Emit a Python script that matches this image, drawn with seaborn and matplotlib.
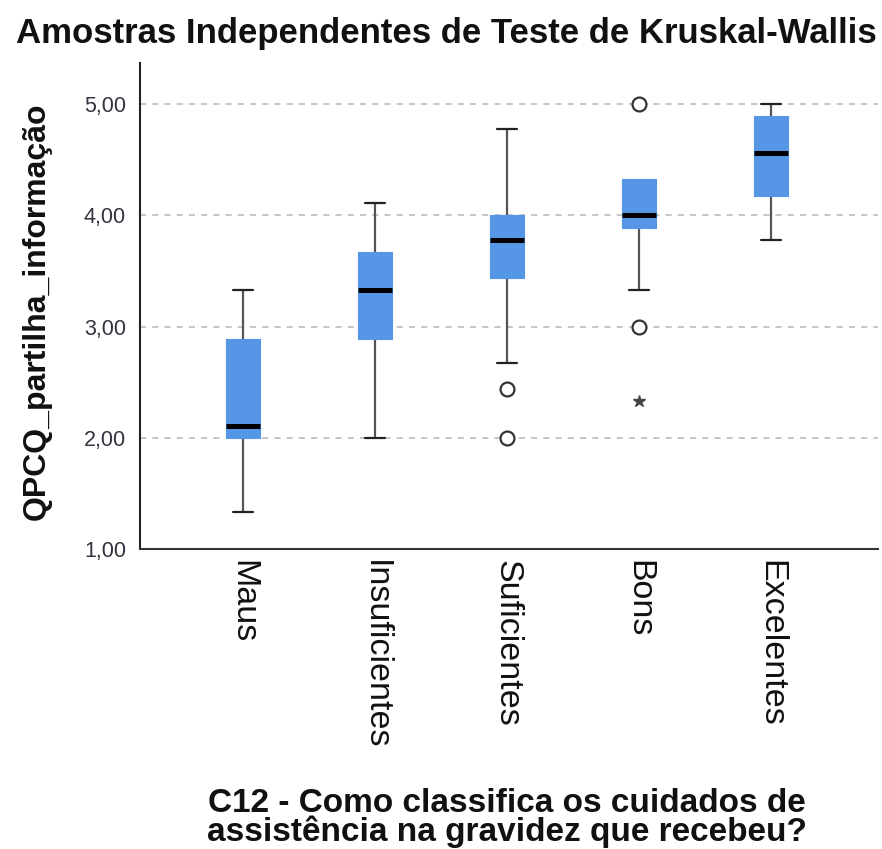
import matplotlib
matplotlib.use("Agg")
import matplotlib.pyplot as plt
import seaborn as sns

# --- dados (resumo de cada caixa) ---
categorias = ["Maus", "Insuficientes", "Suficientes", "Bons", "Excelentes"]
bigode_inf = [1.33, 2.00, 2.67, 3.33, 3.78]
q1 = [2.00, 2.89, 3.44, 3.89, 4.17]
mediana = [2.11, 3.33, 3.78, 4.00, 4.56]
q3 = [2.89, 3.67, 4.00, 4.33, 4.89]
bigode_sup = [3.33, 4.11, 4.78, 4.33, 5.00]
# outliers (círculos) e extremos (estrela)
outliers = [[], [], [2.44, 2.00], [5.00, 3.00], []]
extremos = [[], [], [], [2.33], []]
y_ticks = [1, 2, 3, 4, 5]
y_labels = ["1,00", "2,00", "3,00", "4,00", "5,00"]

sns.set_style("white")
plt.rcParams["font.family"] = ["Liberation Sans", "DejaVu Sans"]

fig = plt.figure(figsize=(8.82, 8.49), dpi=100)
ax = fig.add_axes([140 / 882, 1 - 549 / 849, 738 / 882, 486 / 849])

stats = []
for i, nome in enumerate(categorias):
    stats.append({
        "label": nome,
        "whislo": bigode_inf[i],
        "q1": q1[i],
        "med": mediana[i],
        "q3": q3[i],
        "whishi": bigode_sup[i],
        "fliers": outliers[i],
    })

azul = "#5596E6"
res = ax.bxp(stats, positions=range(len(categorias)), widths=0.26, capwidths=0.145,
             patch_artist=True, showfliers=True,
             boxprops=dict(facecolor=azul, edgecolor=azul, linewidth=0.8, zorder=3),
             medianprops=dict(color="black", linewidth=3.6, zorder=4),
             whiskerprops=dict(color="#555555", linewidth=1.6, zorder=2),
             capprops=dict(color="#222222", linewidth=1.6, zorder=2),
             flierprops=dict(marker="o", markersize=10, markerfacecolor="white",
                             markeredgecolor="#333333", markeredgewidth=1.6, zorder=4))

# sem bigode quando o limite coincide com o quartil
for i in range(len(categorias)):
    if bigode_sup[i] <= q3[i]:
        res["caps"][2 * i + 1].set_visible(False)
    if bigode_inf[i] >= q1[i]:
        res["caps"][2 * i].set_visible(False)

# valores extremos marcados com estrela
for i, vals in enumerate(extremos):
    for v in vals:
        ax.plot(i, v, marker="*", markersize=9, color="#444444", zorder=4)

ax.set_xlim(-0.78, 4.81)
ax.set_ylim(1.0, 5.37)
ax.set_yticks(y_ticks)
ax.set_yticklabels(y_labels, fontsize=15.5, color="#333340")
ax.set_xticks(range(len(categorias)))
ax.set_xticklabels(categorias, rotation=-90, fontsize=24.5, color="#111111", va="top")
ax.tick_params(axis="both", length=0)
ax.tick_params(axis="x", pad=8)
ax.tick_params(axis="y", pad=10)

# linhas de grelha tracejadas
for y in y_ticks[1:]:
    ax.axhline(y, color="#b5b5b5", linewidth=1.1, linestyle=(0, (4, 4)), zorder=0)

sns.despine(ax=ax)
ax.spines["left"].set_color("#222222")
ax.spines["bottom"].set_color("#333333")
ax.spines["left"].set_linewidth(1.5)
ax.spines["bottom"].set_linewidth(1.5)

fig.text(37 / 882, 1 - 311 / 849, "QPCQ_partilha_informação", rotation=90,
         ha="center", va="center", fontsize=23, fontweight="bold", color="#111111")

fig.text(507 / 882, 1 - 818 / 849,
         "C12 - Como classifica os cuidados de\nassistência na gravidez que recebeu?",
         ha="center", va="center", fontsize=24, fontweight="bold", color="#111111",
         linespacing=0.9)

fig.text(446 / 882, 1 - 33 / 849, "Amostras Independentes de Teste de Kruskal-Wallis",
         ha="center", va="center", fontsize=25, fontweight="bold", color="#111111")

fig.savefig("out.png", dpi=100)
